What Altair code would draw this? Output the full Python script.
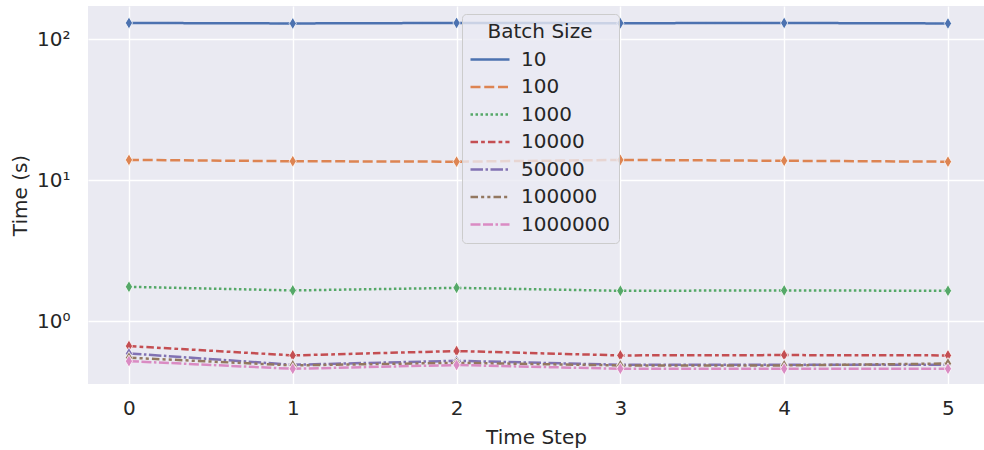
import altair as alt
import pandas as pd

# Time per step for each batch size (log-scaled y axis)
steps = [0, 1, 2, 3, 4, 5]
batch_sizes = ["10", "100", "1000", "10000", "50000", "100000", "1000000"]
t_10 = [130, 129, 130, 129.5, 130, 129]
t_100 = [13.9, 13.6, 13.5, 13.9, 13.7, 13.5]
t_1000 = [1.75, 1.65, 1.72, 1.64, 1.65, 1.64]
t_10000 = [0.665, 0.571, 0.613, 0.571, 0.574, 0.571]
t_50000 = [0.59, 0.49, 0.523, 0.49, 0.49, 0.49]
t_100000 = [0.55, 0.485, 0.506, 0.485, 0.485, 0.50]
t_1000000 = [0.52, 0.459, 0.488, 0.459, 0.459, 0.459]

series = [t_10, t_100, t_1000, t_10000, t_50000, t_100000, t_1000000]

palette = ["#4C72B0", "#DD8452", "#55A868", "#C44E52", "#8172B3", "#937860", "#DA8BC3"]
dashes = [
    [1, 0],
    [10, 3.75],
    [2.5, 2.5],
    [7.5, 3.1, 3.75, 3.1],
    [12.5, 2.5, 2.5, 2.5],
    [7.5, 3.1, 3.1, 3.1, 3.1, 3.1],
    [10, 2.5, 10, 2.5, 2.5, 2.5],
]

rows = []
for bs, vals in zip(batch_sizes, series):
    for s, v in zip(steps, vals):
        rows.append({"step": s, "time": v, "batch": bs})
df = pd.DataFrame(rows)

FONT = "DejaVu Sans"
INK = "#262626"
THIN_DIAMOND = "M0,-1L0.6,0L0,1L-0.6,0Z"

legend = alt.Legend(
    title="Batch Size",
    orient="none",
    legendX=374,
    legendY=8,
    titleFont=FONT,
    labelFont=FONT,
    titleFontSize=20,
    labelFontSize=20,
    titleFontWeight="normal",
    titleColor=INK,
    labelColor=INK,
    titleAnchor="middle",
    titlePadding=6,
    padding=8,
    fillColor="rgba(234,234,242,0.8)",
    strokeColor="#cccccc",
    cornerRadius=4,
    symbolType="M-1.1,0H2.8",
    symbolSize=400,
    symbolStrokeWidth=2.5,
    labelOffset=28,
    rowPadding=5.5,
)

x_enc = alt.X(
    "step:Q",
    scale=alt.Scale(domain=[-0.25, 5.22], nice=False, zero=False),
    axis=alt.Axis(values=steps, format="d", title="Time Step",
                  labelPadding=14, titleY=53, titleBaseline="middle"),
)
y_enc = alt.Y(
    "time:Q",
    scale=alt.Scale(type="log", domain=[0.358, 171.5], nice=False),
    axis=alt.Axis(
        values=[1, 10, 100],
        labelExpr="datum.value == 1 ? '10⁰' : datum.value == 10 ? '10¹' : '10²'",
        title="Time (s)",
        labelPadding=18,
        titleX=-68,
        titleY=189,
        titleBaseline="middle",
    ),
)

lines = alt.Chart(df).mark_line(strokeWidth=2.5).encode(
    x=x_enc,
    y=y_enc,
    color=alt.Color("batch:N", sort=batch_sizes,
                    scale=alt.Scale(domain=batch_sizes, range=palette), legend=legend),
    strokeDash=alt.StrokeDash("batch:N", sort=batch_sizes,
                              scale=alt.Scale(domain=batch_sizes, range=dashes), legend=legend),
)

points = alt.Chart(df).mark_point(
    shape=THIN_DIAMOND, size=144, filled=True, opacity=1, stroke="white", strokeWidth=0.75
).encode(
    x=x_enc,
    y=y_enc,
    color=alt.Color("batch:N", sort=batch_sizes,
                    scale=alt.Scale(domain=batch_sizes, range=palette), legend=None),
)

chart = (
    alt.layer(lines, points)
    .properties(
        width=896,
        height=378,
        autosize=alt.AutoSizeParams(type="none"),
        padding={"left": 88, "top": 6, "right": 0, "bottom": 66},
        background="white",
    )
    .configure_view(fill="#EAEAF2", stroke=None)
    .configure_axis(
        grid=True,
        gridColor="white",
        gridWidth=1.4,
        domain=False,
        ticks=False,
        labelFont=FONT,
        labelFontSize=20,
        labelColor=INK,
        titleFont=FONT,
        titleFontSize=20,
        titleFontWeight="normal",
        titleColor=INK,
    )
)

chart.save("out.html", embed_options={"renderer": "svg", "actions": False})
